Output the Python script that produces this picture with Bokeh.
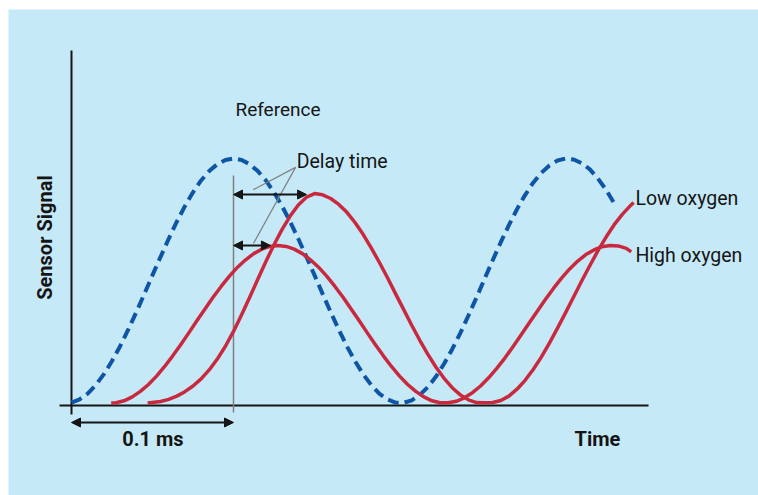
from math import pi
from bokeh.plotting import figure
from bokeh.layouts import column, row, Spacer
from bokeh.models import Range1d, Label, Arrow, NormalHead
from bokeh.embed import file_html
from bokeh.resources import INLINE

# ---------------- data (time in ms, signal in relative units) ----------------
ref_t = [0.000, 0.005, 0.010, 0.015, 0.020, 0.025, 0.030, 0.035, 0.040, 0.045,
         0.050, 0.055, 0.060, 0.065, 0.070, 0.075, 0.080, 0.085, 0.090, 0.095,
         0.100, 0.105, 0.110, 0.115, 0.120, 0.125, 0.130, 0.135, 0.140, 0.145,
         0.150, 0.155, 0.160, 0.165, 0.170, 0.175, 0.180, 0.185, 0.190, 0.195,
         0.200, 0.205, 0.210, 0.215, 0.220, 0.225, 0.230, 0.235, 0.240, 0.245,
         0.250, 0.255, 0.260, 0.265, 0.270, 0.275, 0.280, 0.285, 0.290, 0.295,
         0.300, 0.305, 0.310, 0.315, 0.320, 0.325, 0.330, 0.335]
ref_s = [0.012, 0.025, 0.048, 0.083, 0.127, 0.180, 0.240, 0.307, 0.378, 0.452,
         0.528, 0.602, 0.675, 0.744, 0.807, 0.863, 0.911, 0.949, 0.977, 0.994,
         1.000, 0.994, 0.977, 0.949, 0.911, 0.863, 0.807, 0.744, 0.675, 0.602,
         0.528, 0.452, 0.378, 0.307, 0.240, 0.180, 0.127, 0.083, 0.048, 0.025,
         0.012, 0.011, 0.021, 0.043, 0.075, 0.117, 0.169, 0.228, 0.293, 0.364,
         0.437, 0.513, 0.588, 0.661, 0.730, 0.795, 0.852, 0.902, 0.942, 0.972,
         0.992, 1.000, 0.996, 0.981, 0.956, 0.919, 0.873, 0.819]

high_t = [0.0245, 0.0275, 0.0325, 0.0375, 0.0425, 0.0475, 0.0525, 0.0575, 0.0625, 0.0675,
          0.0725, 0.0775, 0.0825, 0.0875, 0.0925, 0.0975, 0.1025, 0.1075, 0.1125, 0.1175,
          0.1225, 0.1275, 0.1325, 0.1375, 0.1425, 0.1475, 0.1525, 0.1575, 0.1625, 0.1675,
          0.1725, 0.1775, 0.1825, 0.1875, 0.1925, 0.1975, 0.2025, 0.2075, 0.2125, 0.2175,
          0.2225, 0.2275, 0.2325, 0.2375, 0.2425, 0.2475, 0.2525, 0.2575, 0.2625, 0.2675,
          0.2725, 0.2775, 0.2825, 0.2875, 0.2925, 0.2975, 0.3025, 0.3075, 0.3125, 0.3175,
          0.3225, 0.3275, 0.3325, 0.3375, 0.3425, 0.3455]
high_s = [0.010, 0.011, 0.019, 0.035, 0.057, 0.085, 0.119, 0.158, 0.201, 0.247,
          0.295, 0.344, 0.392, 0.439, 0.483, 0.524, 0.560, 0.590, 0.615, 0.633,
          0.644, 0.648, 0.644, 0.633, 0.615, 0.590, 0.560, 0.524, 0.483, 0.439,
          0.392, 0.344, 0.295, 0.247, 0.201, 0.158, 0.119, 0.085, 0.057, 0.035,
          0.019, 0.011, 0.011, 0.017, 0.031, 0.052, 0.079, 0.112, 0.150, 0.192,
          0.238, 0.285, 0.334, 0.382, 0.429, 0.474, 0.516, 0.553, 0.585, 0.611,
          0.630, 0.643, 0.648, 0.646, 0.636, 0.622]

low_t = [0.047, 0.055, 0.060, 0.065, 0.070, 0.075, 0.080, 0.085, 0.090, 0.095,
         0.100, 0.105, 0.110, 0.115, 0.120, 0.125, 0.130, 0.135, 0.140, 0.145,
         0.150, 0.155, 0.160, 0.165, 0.170, 0.175, 0.180, 0.185, 0.190, 0.195,
         0.200, 0.205, 0.210, 0.215, 0.220, 0.225, 0.230, 0.235, 0.240, 0.245,
         0.250, 0.255, 0.260, 0.265, 0.270, 0.275, 0.280, 0.285, 0.290, 0.295,
         0.300, 0.305, 0.310, 0.315, 0.320, 0.325, 0.330, 0.335, 0.340, 0.345,
         0.347]
low_s = [0.010, 0.016, 0.025, 0.038, 0.056, 0.079, 0.108, 0.144, 0.188, 0.240,
         0.300, 0.367, 0.438, 0.511, 0.583, 0.651, 0.713, 0.767, 0.812, 0.843,
         0.858, 0.853, 0.838, 0.814, 0.782, 0.741, 0.693, 0.638, 0.580, 0.518,
         0.453, 0.389, 0.325, 0.264, 0.207, 0.155, 0.110, 0.072, 0.043, 0.023,
         0.012, 0.011, 0.012, 0.020, 0.038, 0.066, 0.102, 0.146, 0.196, 0.253,
         0.313, 0.376, 0.440, 0.505, 0.567, 0.627, 0.682, 0.732, 0.774, 0.809,
         0.822]

labels = {"ref": "Reference", "delay": "Delay time", "low": "Low oxygen",
          "high": "High oxygen", "scale": "0.1 ms", "x": "Time", "y": "Sensor Signal"}

# ---------------- styling ----------------
BG = "#C6E9F8"
BLUE = "#0F55A5"
RED = "#C9293E"
INK = "#151515"
GREY = "#7F7F7F"

# whole canvas is the plotting frame, so annotations are never clipped
p = figure(width=750, height=486,
           x_range=Range1d(-0.038889, 0.424074),
           y_range=Range1d(-0.364372, 1.603239),
           output_backend="svg", toolbar_location=None,
           min_border=0)
p.axis.visible = False
p.grid.visible = False
p.outline_line_color = None
p.background_fill_color = BG
p.border_fill_color = BG

# axis lines crossing near the origin
p.segment(x0=[0.0, -0.0074], y0=[-0.0364, 0.0], x1=[0.0, 0.3562], y1=[1.4372, 0.0],
          line_color=INK, line_width=2)

# reference peak marker
ref_peak_t = ref_t[ref_s.index(max(ref_s))]
p.segment(x0=[ref_peak_t], y0=[-0.028], x1=[ref_peak_t], y1=[0.931],
          line_color=GREY, line_width=1.5)

# curves
p.line(ref_t, ref_s, line_color=BLUE, line_width=4, line_dash="11 6")
p.line(high_t, high_s, line_color=RED, line_width=3.5, line_join="round")
p.line(low_t, low_s, line_color=RED, line_width=3.5, line_join="round")

def dbl_arrow(x0, x1, y):
    p.add_layout(Arrow(start=NormalHead(size=9, fill_color=INK, line_color=INK, line_width=1),
                       end=NormalHead(size=9, fill_color=INK, line_color=INK, line_width=1),
                       x_start=x0, y_start=y, x_end=x1, y_end=y,
                       line_color=INK, line_width=2))

low_peak = max(low_s)
high_peak = max(high_s)
dbl_arrow(ref_peak_t, 0.1451, low_peak - 0.004)
dbl_arrow(ref_peak_t, 0.1228, high_peak)
dbl_arrow(0.0, ref_peak_t, -0.0688)

# leader lines from "Delay time"
p.segment(x0=[0.1383, 0.1383], y0=[0.964, 0.964], x1=[0.1123, 0.1123], y1=[0.874, 0.656],
          line_color=GREY, line_width=1.2)

def lab(x, y, text, size="19px", bold=False, align="left", angle=0.0, baseline="alphabetic"):
    p.add_layout(Label(x=x, y=y, text=text, text_font="Roboto", text_font_size=size,
                       text_font_style="bold" if bold else "normal",
                       text_color=INK, text_align=align, text_baseline=baseline,
                       angle=angle))

lab(0.1012, 1.198, labels["ref"], "19px")
lab(0.1390, 0.987, labels["delay"], "19.5px")
lab(0.3481, 0.838, labels["low"], "19.5px")
lab(0.3481, 0.606, labels["high"], "19.5px")
lab(0.0503, -0.1364, labels["scale"], "20px", bold=True, align="center")
lab(0.3105, -0.1364, labels["x"], "20px", bold=True)
lab(-0.01605, 0.680, labels["y"], "20px", bold=True, align="center", angle=pi / 2, baseline="middle")

page = column(Spacer(height=9), row(Spacer(width=8), p))
open("out.html", "w").write(file_html(page, INLINE))
